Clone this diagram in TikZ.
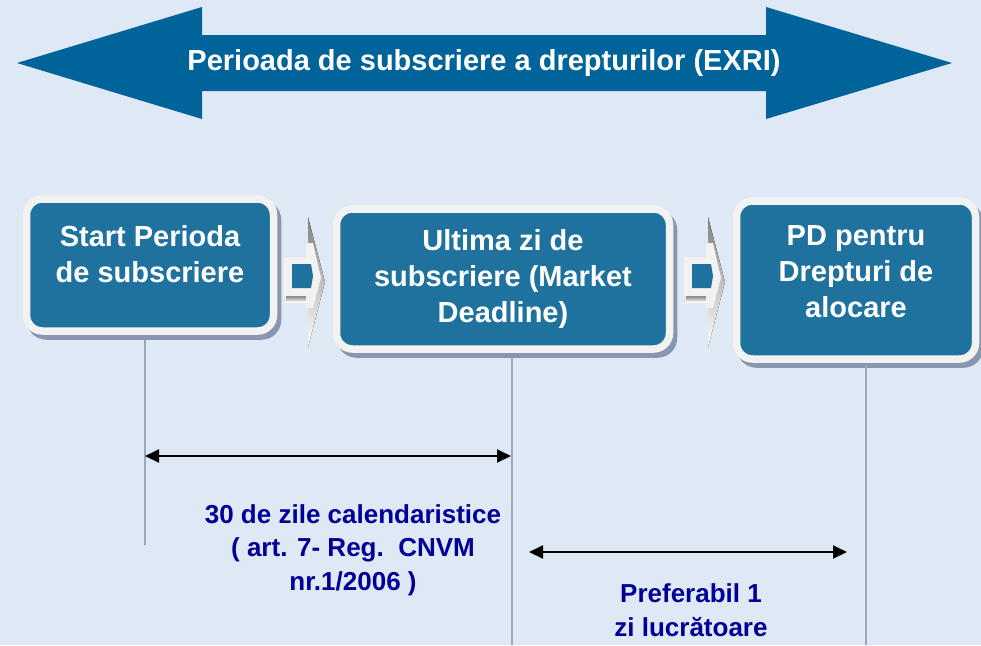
\documentclass[tikz,border=0pt]{standalone}
\usepackage{fontspec}
\setmainfont{Liberation Sans}
\usetikzlibrary{arrows.meta}
\definecolor{bg}{RGB}{223,233,245}
\definecolor{bigblue}{RGB}{0,99,153}
\definecolor{boxblue}{RGB}{31,114,158}
\definecolor{rim}{RGB}{242,242,242}
\definecolor{shade}{RGB}{136,151,175}
\definecolor{navy}{RGB}{0,0,150}
\definecolor{vline}{RGB}{155,168,186}
\tikzset{
  boxrim/.style={draw=rim, line width=7.5pt, fill=boxblue, rounded corners=16pt, inner sep=0pt},
  boxshadow/.style={draw=shade, line width=7.5pt, fill=shade, rounded corners=16pt, inner sep=0pt},
  bigtext/.style={text=white, font=\fontsize{29}{35}\selectfont\bfseries, inner sep=0pt},
  boxtext/.style={text=white, align=center, font=\fontsize{29}{36}\selectfont\bfseries, inner sep=0pt},
  navytext/.style={text=navy, align=center, font=\fontsize{26}{33.5}\selectfont\bfseries, inner sep=0pt},
  guide/.style={draw=vline, line width=2pt},
  dimarrow/.style={draw=black, line width=2pt, {Triangle[length=14pt,width=13pt]}-{Triangle[length=14pt,width=13pt]}},
  chev/.pic={
    \fill[shade] (24,-40) -- (41,25) -- (24,90) -- cycle;
    \fill[shade] (2,39) rectangle (22,45);
    \fill[rim] (0,0) -- (22,0) -- (22,-14) -- (29,-14) -- (37,21) -- (29,51) -- (22,51) -- (22,39) -- (0,39) -- cycle;
    \fill[boxblue] (8,7) -- (27,7) -- (29,19) -- (27,31) -- (8,31) -- cycle;
  }
}
\begin{document}
\begin{tikzpicture}[x=1pt,y=-1pt]
\useasboundingbox[fill=bg] (0,0) rectangle (981,645);

% big double arrow
\fill[bigblue] (17,63) -- (202,7) -- (202,35) -- (766,35) -- (766,7) -- (952,63)
  -- (766,119) -- (766,91) -- (202,91) -- (202,119) -- cycle;
\node[bigtext] (title) at (484,63) {Perioada de subscriere a drepturilor (EXRI)};

% box shadows
\node[boxshadow, minimum width=247pt, minimum height=132pt] (s1) at (154,270) {};
\node[boxshadow, minimum width=333pt, minimum height=140pt] (s2) at (507,284) {};
\node[boxshadow, minimum width=239pt, minimum height=158pt] (s3) at (860,285) {};

% boxes
\node[boxrim, minimum width=247pt, minimum height=132pt] (b1) at (150,265) {};
\node[boxrim, minimum width=333pt, minimum height=140pt] (b2) at (503,279) {};
\node[boxrim, minimum width=239pt, minimum height=158pt] (b3) at (856,280) {};

% chevrons
\pic (c1) at (284,257) {chev};
\pic (c2) at (684,257) {chev};

% box texts
\node[boxtext] (t1) at (150,254) {Start Perioda\\de subscriere};
\node[boxtext] (t2) at (503,279) {Ultima zi de\\subscriere (Market\\Deadline)};
\node[boxtext] (t3) at (856,272) {PD pentru\\Drepturi de\\alocare};

% vertical guide lines
\coordinate (v1t) at (145,340);
\coordinate (v1b) at (145,545);
\coordinate (v2t) at (512,358);
\coordinate (v2b) at (512,645);
\coordinate (v3t) at (866,365);
\coordinate (v3b) at (866,645);
\draw[guide] (v1t) -- (v1b);
\draw[guide] (v2t) -- (v2b);
\draw[guide] (v3t) -- (v3b);

% dimension arrows
\coordinate (a1l) at (145,456);
\coordinate (a1r) at (511,456);
\coordinate (a2l) at (529,552);
\coordinate (a2r) at (847,552);
\draw[dimarrow] (a1l) -- (a1r);
\draw[dimarrow] (a2l) -- (a2r);

% labels
\node[navytext] (d1) at (353,550) {30 de zile calendaristice\\( art. 7- Reg.\ \ CNVM\\nr.1/2006 )};
\node[navytext] (d2) at (691,610) {Preferabil 1\\zi lucrătoare};
\end{tikzpicture}
\end{document}
